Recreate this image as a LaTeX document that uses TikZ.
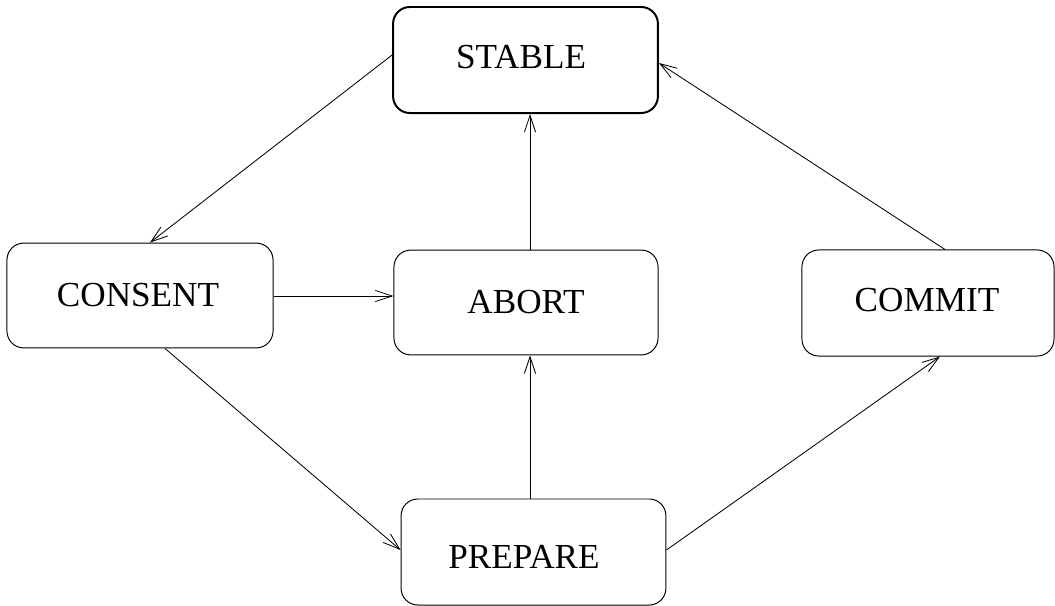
\documentclass[tikz,border=0pt]{standalone}
\usepackage{fontspec}
\setmainfont{Liberation Serif}
\usetikzlibrary{arrows.meta}
\begin{document}
\begin{tikzpicture}[x=0.025cm,y=-0.025cm,
  state/.style={draw, rounded corners=0.42cm, line width=0.7pt, inner sep=0pt},
  label/.style={font=\fontsize{25}{30}\selectfont, anchor=base, inner sep=0pt},
  flow/.style={line width=0.6pt, -{Straight Barb[length=0.42cm,width=0.28cm,line width=0.6pt]}}]
\useasboundingbox (0,0) rectangle (1055,606);

% states
\node[state, line width=1.4pt, minimum width=6.62cm, minimum height=2.65cm] (stable) at (525.5,60) {};
\node[state, minimum width=6.65cm, minimum height=2.62cm] (consent) at (140,295.5) {};
\node[state, minimum width=6.6cm, minimum height=2.62cm] (abort) at (526,302.5) {};
\node[state, minimum width=6.3cm, minimum height=2.65cm] (commit) at (928,303) {};
\node[state, minimum width=6.62cm, minimum height=2.65cm] (prepare) at (533.5,552) {};

% state names
\node[label] (tstable) at (521,68) {STABLE};
\node[label] (tconsent) at (138,306) {CONSENT};
\node[label] (tabort) at (526,313) {ABORT};
\node[label] (tcommit) at (927,311) {COMMIT};
\node[label] (tprepare) at (524,568) {PREPARE};

% transitions
\draw[flow] ([yshift=0.125cm]stable.west) -- ([xshift=0.25cm]consent.north);
\draw[flow] ([yshift=-0.0125cm]consent.east) -- ([yshift=-0.0125cm]abort.west |- consent.east);
\draw[flow] ([xshift=0.1cm]abort.north) -- ([xshift=0.1cm]abort.north |- stable.south);
\draw[flow] ([xshift=-0.0875cm]prepare.north) -- ([xshift=-0.0875cm]prepare.north |- abort.south);
\draw[flow] ([xshift=0.625cm]consent.south) -- ([yshift=0.05cm]prepare.west);
\draw[flow] ([yshift=0.05cm]prepare.east) -- ([xshift=0.3cm]commit.south);
\draw[flow] ([xshift=0.425cm]commit.north) -- ([yshift=-0.075cm]stable.east);
\end{tikzpicture}
\end{document}
